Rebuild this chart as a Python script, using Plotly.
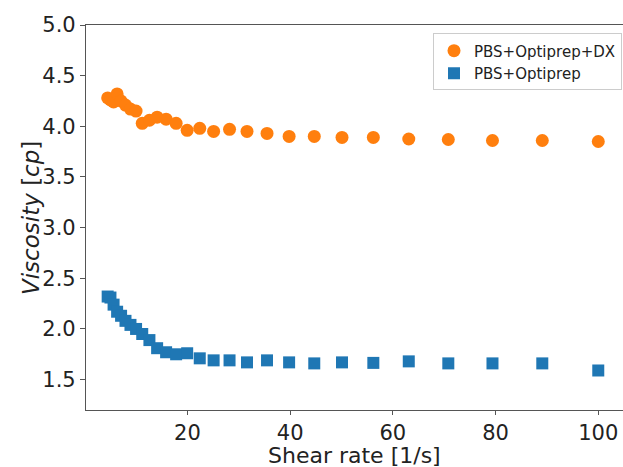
import plotly.graph_objects as go

shear_rate = [4.47, 5.01, 5.62, 6.31, 7.08, 7.94, 8.91, 10.0, 11.2, 12.6, 14.1, 15.85, 17.8, 19.95,
              22.4, 25.1, 28.2, 31.6, 35.5, 39.8, 44.7, 50.1, 56.2, 63.1, 70.8, 79.4, 89.1, 100.0]
visc_dx = [4.28, 4.26, 4.24, 4.32, 4.25, 4.21, 4.17, 4.15, 4.03, 4.06, 4.09, 4.07, 4.03, 3.96,
           3.98, 3.95, 3.97, 3.95, 3.93, 3.90, 3.90, 3.89, 3.89, 3.875, 3.87, 3.86, 3.86, 3.85]
visc_pbs = [2.32, 2.31, 2.24, 2.17, 2.13, 2.08, 2.04, 2.00, 1.95, 1.89, 1.81, 1.77, 1.75, 1.76,
            1.71, 1.69, 1.69, 1.67, 1.69, 1.67, 1.66, 1.67, 1.665, 1.68, 1.66, 1.66, 1.66, 1.59]
y_ticks = [1.5, 2.0, 2.5, 3.0, 3.5, 4.0, 4.5, 5.0]
x_ticks = [20, 40, 60, 80, 100]

fig = go.Figure()
fig.add_trace(go.Scatter(x=shear_rate, y=visc_dx, mode="markers", name="PBS+Optiprep+DX",
                         marker=dict(symbol="circle", size=13, color="#ff7f0e")))
fig.add_trace(go.Scatter(x=shear_rate, y=visc_pbs, mode="markers", name="PBS+Optiprep",
                         marker=dict(symbol="square", size=12, color="#1f77b4")))

axis_common = dict(showgrid=False, zeroline=False, showline=True, linecolor="#555555", linewidth=1.2,
                   ticks="outside", tickcolor="#555555", mirror=True, automargin=False,
                   tickfont=dict(size=21, color="#222222"))
fig.update_xaxes(range=[0.25, 105.4], tickvals=x_ticks, ticktext=[str(v) for v in x_ticks],
                 ticklen=4, **axis_common)
fig.update_yaxes(range=[1.2, 5.0], tickvals=y_ticks, ticktext=[f"{v:.1f}" for v in y_ticks],
                 ticklen=5, **axis_common)

plot_w = 626 - 86
plot_h = 467 - 25 - 57
fig.add_annotation(text="Shear rate [1/s]", xref="paper", yref="paper",
                   x=(354 - 86) / plot_w, y=-(455 - 410) / plot_h, xanchor="center", yanchor="middle",
                   showarrow=False, borderpad=0, font=dict(size=22, color="#222222"))
fig.add_annotation(text="<i>Viscosity</i> [<i>cp</i>]", xref="paper", yref="paper",
                   x=-(86 - 31) / plot_w, y=(410 - 218) / plot_h, xanchor="center", yanchor="middle",
                   textangle=-90, showarrow=False, borderpad=0, font=dict(size=23, color="#222222"))

fig.update_layout(
    width=626, height=467,
    margin=dict(l=86, r=0, t=25, b=57),
    plot_bgcolor="white", paper_bgcolor="white",
    font=dict(family="DejaVu Sans", color="#222222"),
    showlegend=True,
    legend=dict(x=(622 - 86) / plot_w, y=0.978, xanchor="right", yanchor="top", bgcolor="white",
                bordercolor="#cccccc", borderwidth=1, font=dict(size=15), tracegroupgap=0,
                itemwidth=30),
)
fig.write_html("out.html", config={"displayModeBar": False},
               post_script="document.body.style.margin='0';document.body.style.overflow='hidden';")
